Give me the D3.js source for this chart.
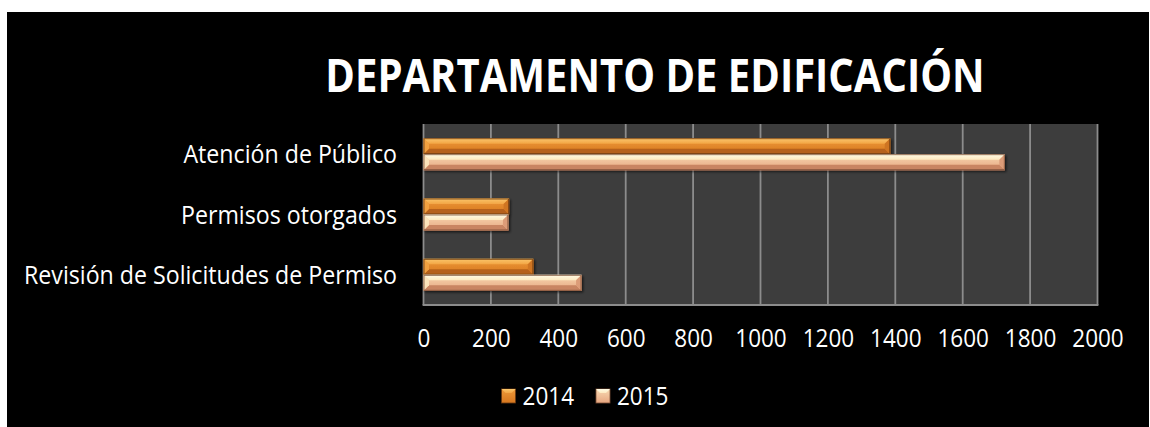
<!DOCTYPE html>
<html>
<head>
<meta charset="utf-8">
<script src="https://cdn.jsdelivr.net/npm/d3@7"></script>
<style>
  html, body { margin: 0; padding: 0; background: #ffffff; }
  svg { display: block; }
  text { font-family: "Open Sans", "Noto Sans", sans-serif; fill: #ffffff; }
</style>
</head>
<body>
<svg id="chart" width="1150" height="427"></svg>
<script>
// Chart data
const title = "DEPARTAMENTO DE EDIFICACIÓN";
const categories = ["Atención de Público", "Permisos otorgados", "Revisión de Solicitudes de Permiso"];
const seriesNames = ["2014", "2015"];
const values2014 = [1385, 254, 326];
const values2015 = [1725, 252, 469];
const xTicks = [0, 200, 400, 600, 800, 1000, 1200, 1400, 1600, 1800, 2000];

const series = [
  { name: seriesNames[0], values: values2014 },
  { name: seriesNames[1], values: values2015 }
];

// Bevel shades per series: top face, main face gradient stops, bottom face, end face, outline
const palette = {
  "2014": { top: ["#fac66c", "#f3a544"], main: ["#ee9a3a", "#d6761e"], bottom: "#b5611a", end: "#cf7424", edge: "#6a3a12" },
  "2015": { top: ["#fffbe6", "#fde9bf"], main: ["#f8d9b2", "#e6a57f"], bottom: "#c98562", end: "#dc9c78", edge: "#7a4e36" }
};

const W = 1150, H = 427;
const svg = d3.select("#chart");
const defs = svg.append("defs");

// Condense a text selection horizontally by a fixed factor
function narrow(sel, factor) {
  sel.each(function () {
    const len = this.getComputedTextLength();
    d3.select(this).attr("textLength", len * factor).attr("lengthAdjust", "spacingAndGlyphs");
  });
}

// Black chart background
svg.append("rect").attr("x", 7).attr("y", 12).attr("width", W - 8).attr("height", H - 12).attr("fill", "#000000");

const plot = { left: 423.5, right: 1097.5, top: 124, bottom: 305 };

const x = d3.scaleLinear().domain([0, 2000]).range([plot.left, plot.right]);
const y = d3.scaleBand().domain(categories).range([plot.top, plot.bottom]).paddingInner(0.47).paddingOuter(0.235);
const ySub = d3.scaleBand().domain(seriesNames).range([0, y.bandwidth()]);

// Plot area
svg.append("rect")
  .attr("x", plot.left).attr("y", plot.top)
  .attr("width", plot.right - plot.left).attr("height", plot.bottom - plot.top)
  .attr("fill", "#3d3d3d");

// Vertical gridlines
svg.append("g").selectAll("line").data(xTicks).join("line")
  .attr("x1", d => x(d)).attr("x2", d => x(d))
  .attr("y1", plot.top).attr("y2", plot.bottom)
  .attr("stroke", "#8c8c8c").attr("stroke-width", 1.8);

// Bottom axis line
svg.append("line")
  .attr("x1", plot.left - 0.9).attr("x2", plot.right + 0.9)
  .attr("y1", plot.bottom).attr("y2", plot.bottom)
  .attr("stroke", "#8c8c8c").attr("stroke-width", 1.8);

// Gradients
seriesNames.forEach(name => {
  const p = palette[name];
  const gTop = defs.append("linearGradient").attr("id", "top" + name).attr("x1", 0).attr("y1", 0).attr("x2", 0).attr("y2", 1);
  gTop.append("stop").attr("offset", "0%").attr("stop-color", p.top[0]);
  gTop.append("stop").attr("offset", "100%").attr("stop-color", p.top[1]);
  const gMain = defs.append("linearGradient").attr("id", "main" + name).attr("x1", 0).attr("y1", 0).attr("x2", 0).attr("y2", 1);
  gMain.append("stop").attr("offset", "0%").attr("stop-color", p.main[0]);
  gMain.append("stop").attr("offset", "100%").attr("stop-color", p.main[1]);
});

const shadow = defs.append("filter").attr("id", "barShadow").attr("x", "-5%").attr("y", "-30%").attr("width", "115%").attr("height", "170%");
shadow.append("feDropShadow").attr("dx", 1.5).attr("dy", 1.5).attr("stdDeviation", 1.2)
  .attr("flood-color", "#000").attr("flood-opacity", 0.6);

const pts = arr => arr.map(d => d.join(",")).join(" ");

// Bevelled bar drawing
function bevelBar(g, x0, x1, y0, h, name) {
  const p = palette[name];
  const y1 = y0 + h;
  const b = Math.min(5.5, (x1 - x0) / 2, h / 2.8);
  const bar = g.append("g").attr("filter", "url(#barShadow)");
  bar.append("rect").attr("x", x0).attr("y", y0).attr("width", x1 - x0).attr("height", h)
    .attr("fill", `url(#main${name})`);
  bar.append("polygon").attr("points", pts([[x0, y0], [x1, y0], [x1 - b, y0 + b], [x0 + b, y0 + b]]))
    .attr("fill", `url(#top${name})`);
  bar.append("polygon").attr("points", pts([[x0, y1], [x1, y1], [x1 - b, y1 - b], [x0 + b, y1 - b]]))
    .attr("fill", p.bottom);
  bar.append("polygon").attr("points", pts([[x1, y0], [x1, y1], [x1 - b, y1 - b], [x1 - b, y0 + b]]))
    .attr("fill", p.end);
  bar.append("polygon").attr("points", pts([[x0, y0], [x0, y1], [x0 + b, y1 - b], [x0 + b, y0 + b]]))
    .attr("fill", p.top[1]).attr("opacity", 0.85);
  bar.append("rect").attr("x", x0 + 0.5).attr("y", y0 + 0.5).attr("width", x1 - x0 - 1).attr("height", h - 1)
    .attr("fill", "none").attr("stroke", p.edge).attr("stroke-width", 1).attr("stroke-opacity", 0.8);
}

const barsG = svg.append("g");
series.forEach(s => {
  s.values.forEach((v, i) => {
    const y0 = y(categories[i]) + ySub(s.name);
    bevelBar(barsG, x(0), x(v), y0, ySub.bandwidth(), s.name);
  });
});

// Category labels
svg.append("g").selectAll("text").data(categories).join("text")
  .attr("x", 397)
  .attr("y", d => y(d) + y.bandwidth() / 2)
  .attr("dy", "0.36em")
  .attr("text-anchor", "end")
  .attr("font-size", 25)
  .text(d => d)
  .call(narrow, 0.927);

// X tick labels
const xAxis = d3.axisBottom(x).tickValues(xTicks).tickSize(0).tickPadding(0).tickFormat(d3.format("d"));
const axG = svg.append("g").attr("transform", `translate(0, 329)`).call(xAxis);
axG.select(".domain").remove();
axG.selectAll("text").attr("font-size", 25).attr("fill", "#ffffff")
  .attr("font-family", "'Open Sans', 'Noto Sans', sans-serif").attr("dy", "0.71em")
  .call(narrow, 0.9);

// Title
svg.append("text")
  .attr("x", 655).attr("y", 92)
  .attr("text-anchor", "middle")
  .attr("font-size", 46).attr("font-weight", "bold")
  .text(title)
  .call(narrow, 0.87);

// Legend
const legend = svg.append("g");
seriesNames.forEach(name => {
  const g = legend.append("g");
  g.append("rect").attr("x", 0).attr("y", -7).attr("width", 14).attr("height", 14)
    .attr("fill", `url(#main${name})`).attr("stroke", palette[name].edge).attr("stroke-width", 0.8);
  g.append("polygon").attr("points", "0,-7 14,-7 10,-3 4,-3").attr("fill", `url(#top${name})`);
  g.append("text").attr("x", 21).attr("y", 0).attr("dy", "0.36em").attr("font-size", 25).text(name)
    .call(narrow, 0.9);
});
// Lay out legend items horizontally
let cx = 0;
legend.selectAll(":scope > g").each(function () {
  d3.select(this).attr("transform", `translate(${cx}, 0)`);
  cx += this.getBBox().width + 22;
});
const lb = legend.node().getBBox();
legend.attr("transform", `translate(${585 - lb.width / 2}, 396)`);
</script>
</body>
</html>
